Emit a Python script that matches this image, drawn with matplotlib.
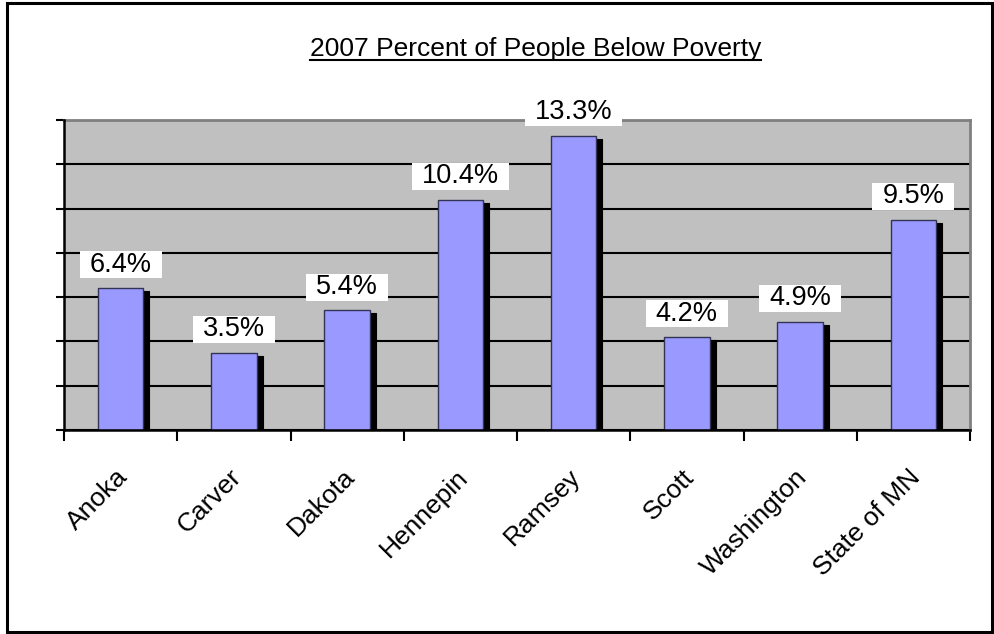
import matplotlib
matplotlib.use("Agg")
import matplotlib.pyplot as plt
import matplotlib.transforms as mtransforms
from matplotlib.patches import Rectangle
from matplotlib.path import Path
import numpy as np

categories = ["Anoka", "Carver", "Dakota", "Hennepin", "Ramsey", "Scott", "Washington", "State of MN"]
values = [6.4, 3.5, 5.4, 10.4, 13.3, 4.2, 4.9, 9.5]
labels = ["6.4%", "3.5%", "5.4%", "10.4%", "13.3%", "4.2%", "4.9%", "9.5%"]
title = "2007 Percent of People Below Poverty"

plt.rcParams['font.family'] = ['Liberation Sans', 'DejaVu Sans']

fig = plt.figure(figsize=(9.94, 6.34), dpi=100)
fig.patch.set_facecolor("white")
# outer border
fig.add_artist(Rectangle((7/994, 2/634), (992-7)/994, (631-2)/634, transform=fig.transFigure,
                         fill=False, edgecolor="black", linewidth=2.2))

ax = fig.add_axes([64/994, (634-430)/634, (970-64)/994, (430-120)/634])
ax.set_facecolor("#C0C0C0")
ax.set_xlim(-0.5, len(categories) - 0.5)
ax.set_ylim(0, 14)

ax.set_yticks(np.arange(0, 15, 2))
ax.set_yticklabels([])
ax.yaxis.grid(True, color="black", linewidth=1.5)
ax.set_axisbelow(True)
ax.tick_params(axis="y", direction="out", length=6, width=1.5, color="black")

# x ticks at category boundaries
ax.set_xticks(np.arange(-0.5, len(categories), 1.0))
ax.set_xticklabels([])
ax.tick_params(axis="x", direction="out", length=8, width=1.5, color="black")
x = np.arange(len(categories))
for xi, name in zip(x, categories):
    ax.annotate(name, xy=(xi, 0), xycoords="data", xytext=(-3.5, -25), textcoords="offset points",
                rotation=45, ha="right", va="top", rotation_mode="anchor", fontsize=19)

for side in ["top", "right"]:
    ax.spines[side].set_color("#808080")
    ax.spines[side].set_linewidth(2)
ax.spines["left"].set_linewidth(1.8)
ax.spines["bottom"].set_linewidth(1.8)
ax.spines["left"].set_zorder(5)
ax.spines["bottom"].set_zorder(5)

width = 0.4
shadow_tr = mtransforms.offset_copy(ax.transData, fig=fig, x=6, y=-3, units="dots")
ax.bar(x, values, width=width, color="black", edgecolor="black", linewidth=0.8,
       transform=shadow_tr, zorder=2)
ax.bar(x, values, width=width, color="#9999FF", edgecolor="#333355", linewidth=1.0, zorder=3)


def label_box(x0, y0, w, h, mutation_size):
    px = 10.0
    py = 0.5
    xa, xb = x0 - px, x0 + w + px
    ya, yb = y0 - py, y0 + h + py
    return Path([(xa, ya), (xb, ya), (xb, yb), (xa, yb), (xa, ya)], closed=True)


for xi, v, lab in zip(x, values, labels):
    ax.annotate(lab, xy=(xi, v), xytext=(0, 7.5), textcoords="offset points",
                ha="center", va="bottom", fontsize=19.5, zorder=6,
                bbox=dict(boxstyle=label_box, facecolor="white", edgecolor="none"))

fig.text(535.5/994, 1 - 49/634, title, ha="center", va="center", fontsize=19)
# underline
t = fig.texts[-1]
fig.canvas.draw()
bb = t.get_window_extent()
fig.add_artist(plt.Line2D([bb.x0 / fig.bbox.width, bb.x1 / fig.bbox.width],
                          [(bb.y0 + 1) / fig.bbox.height] * 2, transform=fig.transFigure,
                          color="black", linewidth=1.5))

fig.savefig("out.png", dpi=100, facecolor="white")
